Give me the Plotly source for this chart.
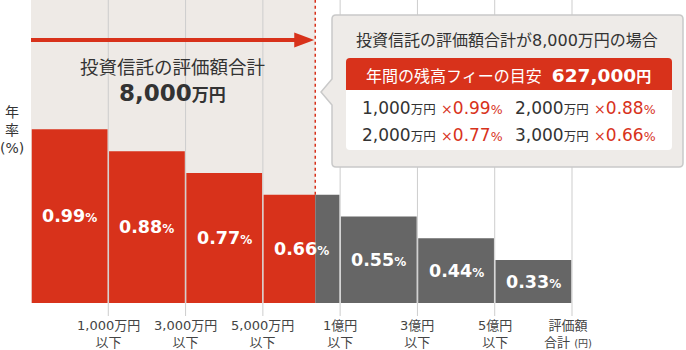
import math
import plotly.graph_objects as go

# ---------------- data ----------------
RATES = [0.99, 0.88, 0.77, 0.66, 0.55, 0.44, 0.33]          # annual fee rate per tier (%)
TIER_UPPER = [1000, 3000, 5000, 10000, 30000, 50000]          # tier upper bounds (万円)
TIER_LABELS = ["1,000万円<br>以下", "3,000万円<br>以下", "5,000万円<br>以下",
               "1億円<br>以下", "3億円<br>以下", "5億円<br>以下"]
X_TITLE = "評価額<br>合計 <span style='font-size:10px'>(円)</span>"
Y_TITLE = "年<br>率<br>(%)"
TOTAL = 8000                                                 # 評価額合計 (万円)
TOTAL_TITLE = "投資信託の評価額合計"
FEE = 627000                                                 # 年間の残高フィー (円)
BREAK_AMOUNTS = [1000, 2000, 2000, 3000]                      # 万円
BREAK_RATES = [0.99, 0.88, 0.77, 0.66]                        # %

# ---------------- style / layout constants ----------------
RED = "#D8321B"
GRAY = "#666666"
BEIGE = "#EEEAE6"
GRID = "#CDCDCD"
TXT = "#333333"
FONT = "DejaVu Sans, Noto Sans CJK JP, sans-serif"
W, H = 686, 350
PH = 303                      # plot-area height in px (bars baseline)
LEFT = 31                     # px of first bar edge
UNIT = (572 - 31) / 7         # px per category
XMIN = -0.5 - LEFT / UNIT
XMAX = XMIN + W / UNIT
Y_MIN = 0.113
Y_MAX = Y_MIN + PH / 198.0

def px(x):
    return x / W

def py(y):
    return (PH - y) / PH

def P(x, y):
    return f"{px(x):.5f} {py(y):.5f}"

def rrect(x0, y0, x1, y1, tl, tr, br, bl):
    return (f"M {P(x0+tl, y0)} L {P(x1-tr, y0)} Q {P(x1, y0)} {P(x1, y0+tr)} "
            f"L {P(x1, y1-br)} Q {P(x1, y1)} {P(x1-br, y1)} L {P(x0+bl, y1)} "
            f"Q {P(x0, y1)} {P(x0, y1-bl)} L {P(x0, y0+tl)} Q {P(x0, y0)} {P(x0+tl, y0)} Z")

# position of the total inside its tier (log-scaled within the tier)
k = next(i for i, u in enumerate(TIER_UPPER) if TOTAL <= u)
lo = TIER_UPPER[k - 1]
frac = math.log(TOTAL / lo) / math.log(TIER_UPPER[k] / lo)
THRESH_X = k - 0.5 + frac

GAP = 0.01
n = len(RATES)

red_x, red_y, red_w, red_o = [], [], [], []
gray_x, gray_y, gray_w, gray_o = [], [], [], []
for i, r in enumerate(RATES):
    if i < k:
        red_x.append(i); red_y.append(r); red_w.append(1 - 2 * GAP); red_o.append(-0.5 + GAP)
    elif i == k:
        red_x.append(i); red_y.append(r); red_w.append(frac - GAP); red_o.append(-0.5 + GAP)
        gray_x.append(i); gray_y.append(r); gray_w.append(1 - frac - GAP); gray_o.append(-0.5 + frac)
    else:
        gray_x.append(i); gray_y.append(r); gray_w.append(1 - 2 * GAP); gray_o.append(-0.5 + GAP)

fig = go.Figure()
fig.add_trace(go.Bar(x=red_x, y=red_y, width=red_w, offset=red_o,
                     marker=dict(color=RED, line=dict(width=0)), hoverinfo="skip"))
fig.add_trace(go.Bar(x=gray_x, y=gray_y, width=gray_w, offset=gray_o,
                     marker=dict(color=GRAY, line=dict(width=0)), hoverinfo="skip"))

shapes = []
shapes.append(dict(type="rect", xref="x", yref="paper", x0=-0.5, x1=THRESH_X, y0=0, y1=1,
                   fillcolor=BEIGE, line=dict(width=0), layer="below"))
for i in range(n):
    shapes.append(dict(type="line", xref="x", yref="paper", x0=i + 0.5, x1=i + 0.5,
                       y0=py(316), y1=1, line=dict(color=GRID, width=1), layer="below"))
shapes.append(dict(type="line", xref="x", yref="y", x0=THRESH_X, x1=THRESH_X,
                   y0=RATES[k], y1=Y_MAX, line=dict(color=RED, width=1.5, dash="dot")))
shapes.append(dict(type="line", xref="x", yref="paper", x0=-0.5, x1=THRESH_X - 0.2,
                   y0=py(40), y1=py(40), line=dict(color=RED, width=4)))
tip_px = LEFT + (THRESH_X - (-0.5)) * UNIT - 1
shapes.append(dict(type="path", xref="paper", yref="paper",
                   path=f"M {P(tip_px-20, 32.5)} L {P(tip_px, 40)} L {P(tip_px-20, 47.5)} Z",
                   fillcolor=RED, line=dict(width=0)))
bx0, by0, bx1, by1, rr = 332, 15, 683, 167, 4
callout = (f"M {P(bx0+rr, by0)} L {P(bx1-rr, by0)} Q {P(bx1, by0)} {P(bx1, by0+rr)} "
           f"L {P(bx1, by1-rr)} Q {P(bx1, by1)} {P(bx1-rr, by1)} L {P(bx0+rr, by1)} "
           f"Q {P(bx0, by1)} {P(bx0, by1-rr)} L {P(bx0, 105)} L {P(321, 92)} L {P(bx0, 79)} "
           f"L {P(bx0, by0+rr)} Q {P(bx0, by0)} {P(bx0+rr, by0)} Z")
shapes.append(dict(type="path", xref="paper", yref="paper", path=callout,
                   fillcolor="#EEEBE8", line=dict(color="#C9C9C9", width=1.5)))
shapes.append(dict(type="path", xref="paper", yref="paper",
                   path=rrect(346, 58, 672, 90, 4, 4, 0, 0), fillcolor=RED, line=dict(width=0)))
shapes.append(dict(type="path", xref="paper", yref="paper",
                   path=rrect(346, 90, 672, 150, 0, 0, 4, 4), fillcolor="white", line=dict(width=0)))

ann = []
for i, r in enumerate(RATES):
    ann.append(dict(xref="x", yref="y", x=i, y=(r + Y_MIN) / 2, showarrow=False,
                    text=f"<b>{r:.2f}<span style='font-size:12px'>%</span></b>",
                    font=dict(family=FONT, size=17.5, color="white")))
for i, lab in enumerate(TIER_LABELS):
    ann.append(dict(xref="x", yref="paper", x=i + 0.5, y=py(333.5), showarrow=False,
                    text=lab, font=dict(family=FONT, size=13, color="#444444"),
                    xanchor="center", yanchor="middle"))
ann.append(dict(xref="paper", yref="paper", x=px(568), y=py(333.5), showarrow=False,
                text=X_TITLE, font=dict(family=FONT, size=13, color="#444444"),
                xanchor="center", yanchor="middle"))
ann.append(dict(xref="paper", yref="paper", x=px(12), y=py(130), showarrow=False,
                text=Y_TITLE, font=dict(family=FONT, size=14, color=TXT),
                xanchor="center", yanchor="middle"))
ann.append(dict(xref="paper", yref="paper", x=px(172), y=py(67), showarrow=False,
                text=TOTAL_TITLE, font=dict(family=FONT, size=18.5, color=TXT),
                xanchor="center", yanchor="middle"))
ann.append(dict(xref="paper", yref="paper", x=px(172), y=py(93), showarrow=False,
                text=f"<b>{TOTAL:,}<span style='font-size:17px'>万円</span></b>",
                font=dict(family=FONT, size=23, color=TXT), xanchor="center", yanchor="middle"))
ann.append(dict(xref="paper", yref="paper", x=px(507), y=py(40), showarrow=False,
                text=f"{TOTAL_TITLE}が{TOTAL:,}万円の場合",
                font=dict(family=FONT, size=16, color=TXT), xanchor="center", yanchor="middle"))
ann.append(dict(xref="paper", yref="paper", x=px(509), y=py(75), showarrow=False,
                text=("年間の残高フィーの目安\u00a0\u00a0<b><span style='font-size:18.5px'>"
                      f"{FEE:,}</span><span style='font-size:15px'>円</span></b>"),
                font=dict(family=FONT, size=16, color="white"), xanchor="center", yanchor="middle"))
pos = [(360, 108), (513, 108), (360, 135), (513, 135)]
for (x, y), a, r in zip(pos, BREAK_AMOUNTS, BREAK_RATES):
    ann.append(dict(xref="paper", yref="paper", x=px(x), y=py(y), showarrow=False,
                    text=(f"{a:,}<span style='font-size:12.5px'>万円</span> "
                          f"<span style='color:{RED}'><span style='font-size:14px'>×</span>{r:.2f}"
                          f"<span style='font-size:12.5px'>%</span></span>"),
                    font=dict(family=FONT, size=17, color=TXT), xanchor="left", yanchor="middle"))

fig.update_layout(
    width=W, height=H,
    margin=dict(l=0, r=0, t=0, b=H - PH, pad=0),
    paper_bgcolor="white", plot_bgcolor="white",
    barmode="overlay", showlegend=False,
    xaxis=dict(range=[XMIN, XMAX], visible=False, fixedrange=True),
    yaxis=dict(range=[Y_MIN, Y_MAX], visible=False, fixedrange=True),
    shapes=shapes, annotations=ann,
    font=dict(family=FONT),
)

fig.write_html("out.html", config={"displayModeBar": False})
